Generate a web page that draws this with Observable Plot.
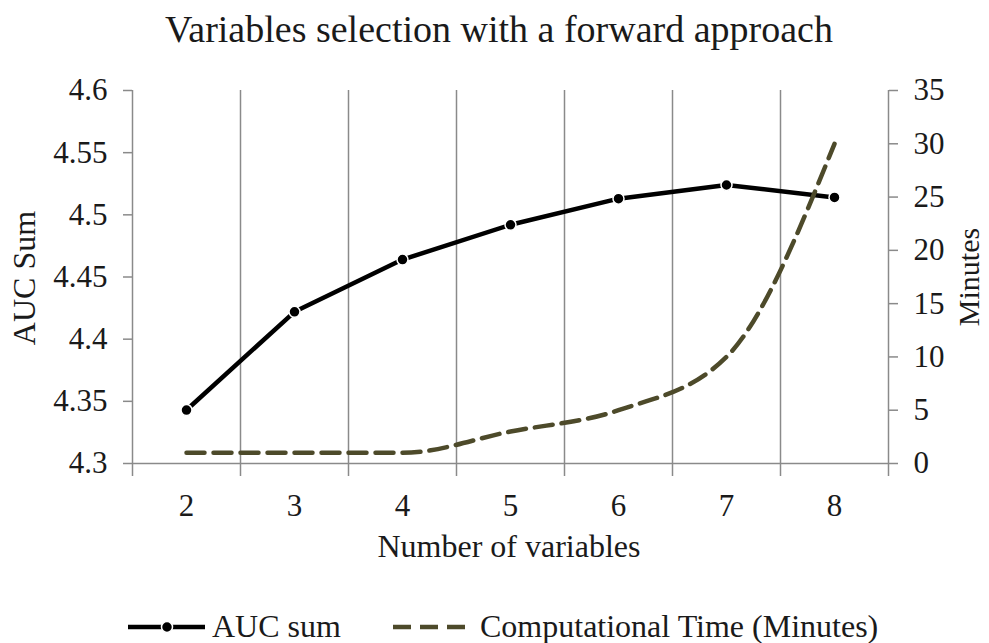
<!DOCTYPE html>
<html>
<head>
<meta charset="utf-8">
<script src="https://cdn.jsdelivr.net/npm/d3@7"></script>
<script src="https://cdn.jsdelivr.net/npm/@observablehq/plot@0.6"></script>
<style>
  html, body { margin: 0; padding: 0; background: #fff; }
  #chart { width: 989px; height: 643px; }
</style>
</head>
<body>
<div id="chart"></div>
<script>
// ---- data ----
const categories = [2, 3, 4, 5, 6, 7, 8];
const aucSum = [4.343, 4.422, 4.464, 4.492, 4.513, 4.524, 4.514];
const minutes = [1, 1, 1, 3, 5, 10, 30];
const aucTicks = [4.3, 4.35, 4.4, 4.45, 4.5, 4.55, 4.6];
const minuteTicks = [0, 5, 10, 15, 20, 25, 30, 35];
const titleText = "Variables selection with a forward approach";
const xTitle = "Number of variables";
const yLeftTitle = "AUC Sum";
const yRightTitle = "Minutes";
const seriesNames = ["AUC sum", "Computational Time (Minutes)"];

// ---- derived ----
const aucDomain = [aucTicks[0], aucTicks[aucTicks.length - 1]];
const minDomain = [minuteTicks[0], minuteTicks[minuteTicks.length - 1]];
const toAuc = m => aucDomain[0] + (m - minDomain[0]) * (aucDomain[1] - aucDomain[0]) / (minDomain[1] - minDomain[0]);
const fromAuc = v => Math.round(minDomain[0] + (v - aucDomain[0]) * (minDomain[1] - minDomain[0]) / (aucDomain[1] - aucDomain[0]));
const aucData = categories.map((c, i) => ({x: c, y: aucSum[i]}));
const minData = categories.map((c, i) => ({x: c, y: toAuc(minutes[i])}));
const bounds = categories.map(c => c - 0.5).concat([categories[categories.length - 1] + 0.5]);
const innerBounds = bounds.slice(1, -1);
const edgeBounds = [bounds[0], bounds[bounds.length - 1]];

const FONT = "'Liberation Serif', 'Times New Roman', serif";
const TXT = "#1a1a1a";
const GRID = "#8a8a8a";
const OLIVE = "#4d4a2a";

const plot = Plot.plot({
  width: 989,
  height: 643,
  marginTop: 90,
  marginBottom: 180,
  marginLeft: 132,
  marginRight: 101,
  style: {fontFamily: FONT, fontSize: "31px", color: TXT, background: "#fff", overflow: "visible"},
  x: {type: "linear", domain: [bounds[0], bounds[bounds.length - 1]]},
  y: {type: "linear", domain: aucDomain},
  marks: [
    Plot.ruleX(innerBounds, {y1: aucDomain[0], y2: aucDomain[1], stroke: GRID, strokeWidth: 1.5}),
    Plot.ruleX(edgeBounds, {y1: aucDomain[0], y2: aucDomain[1], stroke: GRID, strokeWidth: 1.5}),
    Plot.ruleY([aucDomain[0]], {stroke: GRID, strokeWidth: 1.5}),
    Plot.axisY({anchor: "left", ticks: aucTicks, tickSize: 9, tickPadding: 16, label: null,
      tickFormat: d => String(+d.toFixed(2)), stroke: GRID, strokeWidth: 1.5, fill: TXT}),
    Plot.axisY({anchor: "right", ticks: minuteTicks.map(toAuc), tickSize: 9, tickPadding: 16, label: null,
      tickFormat: v => String(fromAuc(v)), stroke: GRID, strokeWidth: 1.5, fill: TXT}),
    Plot.axisX({anchor: "bottom", ticks: bounds, tickSize: 13, tickFormat: () => "", label: null,
      stroke: GRID, strokeWidth: 1.5}),
    Plot.axisX({anchor: "bottom", ticks: categories, tickSize: 0, tickPadding: 30, label: null,
      tickFormat: d => String(d), fill: TXT}),
    Plot.line(aucData, {x: "x", y: "y", stroke: "#000", strokeWidth: 4.5, strokeLinejoin: "round"}),
    Plot.dot(aucData, {x: "x", y: "y", r: 5.5, fill: "#000", stroke: "#fff", strokeWidth: 1.5}),
    Plot.line(minData, {x: "x", y: "y", stroke: OLIVE, strokeWidth: 4.5, strokeDasharray: "18,9", curve: "monotone-x"})
  ]
});

document.getElementById("chart").appendChild(plot);

// ---- titles and legend (text) ----
const svg = d3.select(plot);
const g = svg.append("g").attr("font-family", FONT).attr("fill", TXT).attr("text-anchor", "middle");
g.append("text").attr("x", 499).attr("y", 42)
  .attr("font-size", 38).text(titleText);
g.append("text").attr("x", 509).attr("y", 557)
  .attr("font-size", 32).text(xTitle);
g.append("text").attr("transform", "translate(35,278) rotate(-90)")
  .attr("font-size", 32).text(yLeftTitle);
g.append("text").attr("transform", "translate(979,277) rotate(-90)")
  .attr("font-size", 30).text(yRightTitle);

// legend
const lg = svg.append("g").attr("text-anchor", "start");
lg.append("line").attr("x1", 128).attr("x2", 205).attr("y1", 627).attr("y2", 627)
  .attr("stroke", "#000").attr("stroke-width", 4.5);
lg.append("circle").attr("cx", 167).attr("cy", 627).attr("r", 5.5).attr("fill", "#000")
  .attr("stroke", "#fff").attr("stroke-width", 1.5);
lg.append("text").attr("x", 212).attr("y", 637).attr("font-family", FONT).attr("font-size", 32)
  .attr("text-anchor", "start").attr("fill", TXT).text(seriesNames[0]);
lg.append("line").attr("x1", 393).attr("x2", 465).attr("y1", 627).attr("y2", 627)
  .attr("stroke", OLIVE).attr("stroke-width", 4.5).attr("stroke-dasharray", "18,9");
lg.append("text").attr("x", 480).attr("y", 637).attr("font-family", FONT).attr("font-size", 32)
  .attr("text-anchor", "start").attr("fill", TXT).text(seriesNames[1]);
</script>
</body>
</html>
